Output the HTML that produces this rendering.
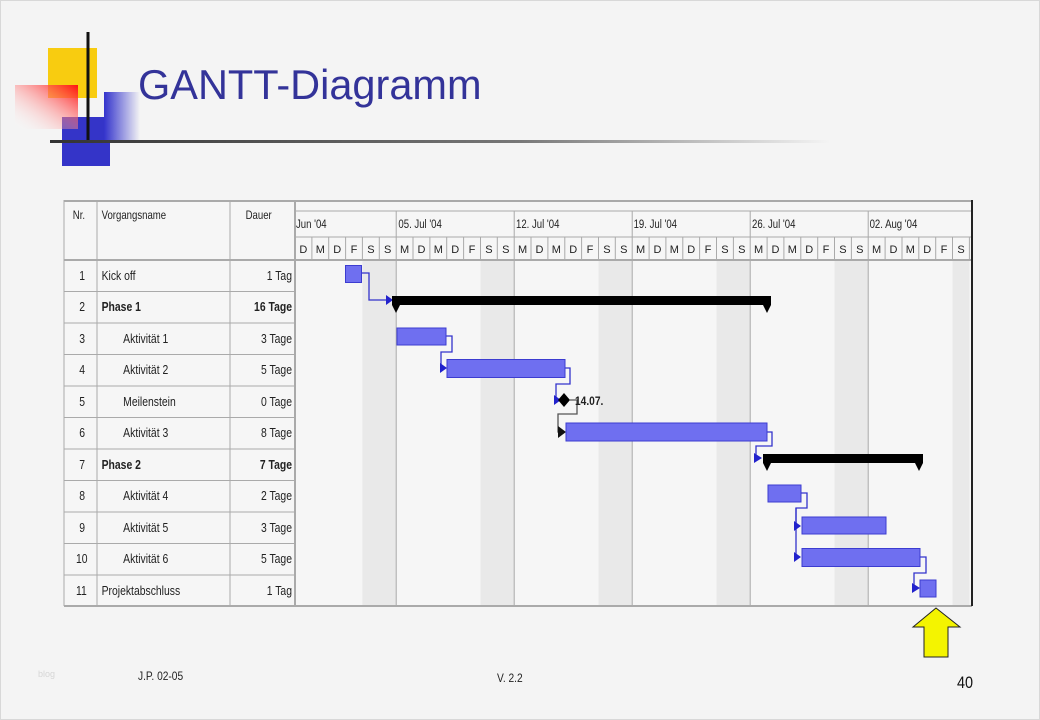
<!DOCTYPE html>
<html><head><meta charset="utf-8"><style>
html,body{margin:0;padding:0;background:#f4f4f4;}
svg{display:block;font-family:"Liberation Sans",sans-serif;}
</style></head><body>
<svg width="1040" height="720" viewBox="0 0 1040 720" xmlns="http://www.w3.org/2000/svg">
<defs>
<linearGradient id="red" x1="1" y1="0" x2="0" y2="1"><stop offset="0" stop-color="#ff1010"/><stop offset="1" stop-color="#ffffff" stop-opacity="0"/></linearGradient>
<linearGradient id="blu" x1="0" y1="0" x2="1" y2="0"><stop offset="0" stop-color="#3333cc"/><stop offset="1" stop-color="#f4f4f4"/></linearGradient>
<linearGradient id="hl" x1="0" y1="0" x2="1" y2="0"><stop offset="0" stop-color="#333"/><stop offset="0.6" stop-color="#777"/><stop offset="1" stop-color="#f4f4f4"/></linearGradient>
</defs>
<rect x="0.5" y="0.5" width="1039" height="719" fill="#f4f4f4" stroke="#d8d8d8"/>
<rect x="48" y="48" width="49" height="50" fill="#f8cc10"/>
<rect x="62" y="117" width="48" height="49" fill="#3434c8"/>
<rect x="104" y="92" width="36" height="48" fill="url(#blu)"/>
<rect x="15" y="85" width="63" height="44" fill="url(#red)"/>
<line x1="88" y1="32" x2="88" y2="140" stroke="#111" stroke-width="3"/>
<rect x="50" y="140" width="780" height="3" fill="url(#hl)"/>
<text x="138" y="99" font-size="41.5" fill="#333399">GANTT-Diagramm</text>

<rect x="64" y="200" width="908" height="406" fill="#f6f6f6"/>
<g fill="#e9e9e9">
<rect x="362.4" y="260" width="33.8" height="346"/><rect x="480.5" y="260" width="33.7" height="346"/><rect x="598.5" y="260" width="33.7" height="346"/><rect x="716.5" y="260" width="33.7" height="346"/><rect x="834.5" y="260" width="33.7" height="346"/><rect x="952.5" y="260" width="17" height="346"/>
</g>
<g stroke="#aaa" stroke-width="1">
<line x1="64" y1="201" x2="972" y2="201" stroke-width="2"/>
<line x1="295" y1="211" x2="972" y2="211"/>
<line x1="295" y1="237" x2="972" y2="237"/>
<line x1="64" y1="260" x2="972" y2="260" stroke-width="2"/>
<line x1="64" y1="606" x2="972" y2="606" stroke-width="2"/>
<line x1="64" y1="200" x2="64" y2="606"/>
<line x1="97" y1="200" x2="97" y2="606"/>
<line x1="230" y1="200" x2="230" y2="606"/>
<line x1="295" y1="200" x2="295" y2="606" stroke-width="2"/>
<line x1="972" y1="200" x2="972" y2="606" stroke="#222" stroke-width="2"/>
<line x1="64" y1="291.5" x2="295" y2="291.5"/><line x1="64" y1="323" x2="295" y2="323"/><line x1="64" y1="354.5" x2="295" y2="354.5"/><line x1="64" y1="386" x2="295" y2="386"/><line x1="64" y1="417.5" x2="295" y2="417.5"/><line x1="64" y1="449" x2="295" y2="449"/><line x1="64" y1="480.5" x2="295" y2="480.5"/><line x1="64" y1="512" x2="295" y2="512"/><line x1="64" y1="543.5" x2="295" y2="543.5"/><line x1="64" y1="575" x2="295" y2="575"/>
<line x1="396.2" y1="211" x2="396.2" y2="606"/><line x1="514.2" y1="211" x2="514.2" y2="606"/><line x1="632.2" y1="211" x2="632.2" y2="606"/><line x1="750.2" y1="211" x2="750.2" y2="606"/><line x1="868.2" y1="211" x2="868.2" y2="606"/>
</g>
<g stroke="#aaa" stroke-width="1">
<line x1="311.9" y1="237" x2="311.9" y2="260"/><line x1="328.7" y1="237" x2="328.7" y2="260"/><line x1="345.6" y1="237" x2="345.6" y2="260"/><line x1="362.4" y1="237" x2="362.4" y2="260"/><line x1="379.3" y1="237" x2="379.3" y2="260"/><line x1="413" y1="237" x2="413" y2="260"/><line x1="429.9" y1="237" x2="429.9" y2="260"/><line x1="446.7" y1="237" x2="446.7" y2="260"/><line x1="463.6" y1="237" x2="463.6" y2="260"/><line x1="480.5" y1="237" x2="480.5" y2="260"/><line x1="497.3" y1="237" x2="497.3" y2="260"/><line x1="531" y1="237" x2="531" y2="260"/><line x1="547.9" y1="237" x2="547.9" y2="260"/><line x1="564.8" y1="237" x2="564.8" y2="260"/><line x1="581.6" y1="237" x2="581.6" y2="260"/><line x1="598.5" y1="237" x2="598.5" y2="260"/><line x1="615.3" y1="237" x2="615.3" y2="260"/><line x1="649.1" y1="237" x2="649.1" y2="260"/><line x1="665.9" y1="237" x2="665.9" y2="260"/><line x1="682.8" y1="237" x2="682.8" y2="260"/><line x1="699.6" y1="237" x2="699.6" y2="260"/><line x1="716.5" y1="237" x2="716.5" y2="260"/><line x1="733.4" y1="237" x2="733.4" y2="260"/><line x1="767.1" y1="237" x2="767.1" y2="260"/><line x1="783.9" y1="237" x2="783.9" y2="260"/><line x1="800.8" y1="237" x2="800.8" y2="260"/><line x1="817.7" y1="237" x2="817.7" y2="260"/><line x1="834.5" y1="237" x2="834.5" y2="260"/><line x1="851.4" y1="237" x2="851.4" y2="260"/><line x1="885.1" y1="237" x2="885.1" y2="260"/><line x1="902" y1="237" x2="902" y2="260"/><line x1="918.8" y1="237" x2="918.8" y2="260"/><line x1="935.7" y1="237" x2="935.7" y2="260"/><line x1="952.5" y1="237" x2="952.5" y2="260"/><line x1="969.4" y1="237" x2="969.4" y2="260"/>
</g>
<g font-size="12" fill="#222" transform="scale(0.8,1)">
<text x="91" y="219">Nr.</text><text x="127" y="219">Vorgangsname</text><text x="307" y="219">Dauer</text>
<text x="370" y="228">Jun '04</text><text x="498" y="228">05. Jul '04</text><text x="645" y="228">12. Jul '04</text><text x="792" y="228">19. Jul '04</text><text x="940" y="228">26. Jul '04</text><text x="1087" y="228">02. Aug '04</text>
</g>
<g font-size="11" fill="#222" text-anchor="middle">
<text x="303.4" y="253">D</text><text x="320.3" y="253">M</text><text x="337.2" y="253">D</text><text x="354" y="253">F</text><text x="370.9" y="253">S</text><text x="387.7" y="253">S</text>
<text x="404.6" y="253">M</text><text x="421.5" y="253">D</text><text x="438.3" y="253">M</text><text x="455.2" y="253">D</text><text x="472" y="253">F</text><text x="488.9" y="253">S</text><text x="505.8" y="253">S</text>
<text x="522.6" y="253">M</text><text x="539.5" y="253">D</text><text x="556.3" y="253">M</text><text x="573.2" y="253">D</text><text x="590" y="253">F</text><text x="606.9" y="253">S</text><text x="623.8" y="253">S</text>
<text x="640.6" y="253">M</text><text x="657.5" y="253">D</text><text x="674.3" y="253">M</text><text x="691.2" y="253">D</text><text x="708" y="253">F</text><text x="724.9" y="253">S</text><text x="741.8" y="253">S</text>
<text x="758.6" y="253">M</text><text x="775.5" y="253">D</text><text x="792.3" y="253">M</text><text x="809.2" y="253">D</text><text x="826" y="253">F</text><text x="842.9" y="253">S</text><text x="859.8" y="253">S</text>
<text x="876.6" y="253">M</text><text x="893.5" y="253">D</text><text x="910.3" y="253">M</text><text x="927.2" y="253">D</text><text x="944" y="253">F</text><text x="961" y="253">S</text>
</g>
<g font-size="13" fill="#222" transform="scale(0.8,1)">
<text x="99" y="280">1</text><text x="99" y="311">2</text><text x="99" y="343">3</text><text x="99" y="374">4</text><text x="99" y="406">5</text><text x="99" y="437">6</text><text x="99" y="469">7</text><text x="99" y="500">8</text><text x="99" y="532">9</text><text x="95" y="563">10</text><text x="95" y="595">11</text>
<text x="127" y="280">Kick off</text><text x="127" y="311" font-weight="bold">Phase 1</text><text x="154" y="343">Aktivität 1</text><text x="154" y="374">Aktivität 2</text><text x="154" y="406">Meilenstein</text><text x="154" y="437">Aktivität 3</text><text x="127" y="469" font-weight="bold">Phase 2</text><text x="154" y="500">Aktivität 4</text><text x="154" y="532">Aktivität 5</text><text x="154" y="563">Aktivität 6</text><text x="127" y="595">Projektabschluss</text>
</g>
<g font-size="13" fill="#222" text-anchor="end" transform="scale(0.8,1)">
<text x="365" y="280">1 Tag</text><text x="365" y="311" font-weight="bold">16 Tage</text><text x="365" y="343">3 Tage</text><text x="365" y="374">5 Tage</text><text x="365" y="406">0 Tage</text><text x="365" y="437">8 Tage</text><text x="365" y="469" font-weight="bold">7 Tage</text><text x="365" y="500">2 Tage</text><text x="365" y="532">3 Tage</text><text x="365" y="563">5 Tage</text><text x="365" y="595">1 Tag</text>
</g>
<g fill="none" stroke="#3333cc" stroke-width="1.3">
<polyline points="362,273 369,273 369,300 388,300"/>
<polyline points="446,336 452,336 452,352 441,352 441,368 445,368"/>
<polyline points="565,368 570,368 570,384 556,384 556,400 560,400"/>
<polyline points="767,432 772,432 772,446 756,446 756,458 760,458"/>
<polyline points="801,493 807,493 807,508 796,508 796,526 800,526"/>
<polyline points="796,508 796,557 800,557"/>
<polyline points="920,557 926,557 926,573 914,573 914,588 918,588"/>
</g>
<polyline points="570,400 577,400 577,414 558,414 558,432 564,432" fill="none" stroke="#555" stroke-width="1.3"/>
<g fill="#2222cc">
<polygon points="386,295 393,300 386,305"/><polygon points="440,363 447,368 440,373"/><polygon points="554,395 561,400 554,405"/>
<polygon points="754,453 762,458 754,463"/><polygon points="794,521 801,526 794,531"/><polygon points="794,552 801,557 794,562"/><polygon points="912,583 920,588 912,593"/>
</g>
<polygon points="558,426 566,432 558,438" fill="#111"/>
<g fill="#6f6ff0" stroke="#3c3cd0" stroke-width="1">
<rect x="345.5" y="265.5" width="16" height="17"/>
<rect x="397" y="328" width="49" height="17"/>
<rect x="447" y="359.5" width="118" height="18"/>
<rect x="566" y="423" width="201" height="18"/>
<rect x="768" y="485" width="33" height="17"/>
<rect x="802" y="517" width="84" height="17"/>
<rect x="802" y="548.5" width="118" height="18"/>
<rect x="920" y="580" width="16" height="17"/>
</g>
<g fill="#000">
<rect x="392" y="296" width="379" height="9"/><polygon points="392,305 400,305 396,313"/><polygon points="763,305 771,305 767,313"/>
<rect x="763" y="454" width="160" height="9"/><polygon points="763,463 771,463 767,471"/><polygon points="915,463 923,463 919,471"/>
<polygon points="564,393 570,400 564,407 558,400"/>
</g>
<text x="575" y="405" font-size="12" font-weight="bold" fill="#222" transform="translate(575,0) scale(0.85,1) translate(-575,0)">14.07.</text>
<polygon points="936,608 960,627 948,627 948,657 924,657 924,627 913,627" fill="#f4f400" stroke="#222" stroke-width="1"/>
<text x="38" y="677" font-size="9" fill="#d6d6d6">blog</text>
<text x="138" y="680" font-size="12" fill="#222" transform="translate(138,0) scale(0.85,1) translate(-138,0)">J.P. 02-05</text>
<text x="497" y="682" font-size="12" fill="#222" transform="translate(497,0) scale(0.85,1) translate(-497,0)">V. 2.2</text>
<text x="957" y="688" font-size="17" fill="#111" transform="translate(957,0) scale(0.85,1) translate(-957,0)">40</text>
</svg>
</body></html>
